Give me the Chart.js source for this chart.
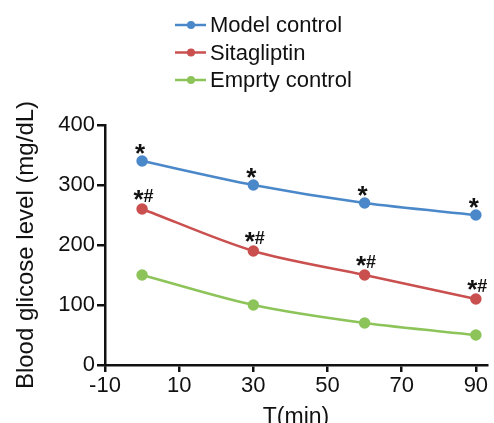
<!DOCTYPE html>
<html><head><meta charset="utf-8">
<script src="https://cdn.jsdelivr.net/npm/chart.js@4/dist/chart.umd.min.js"></script>
<style>html,body{margin:0;padding:0;background:#fff}#wrap{width:494px;height:423px}</style>
</head><body><div id="wrap"><canvas id="c" width="494" height="423"></canvas></div>
<script>
const times = [0, 30, 60, 90];
const modelControl = [340, 300, 270, 250];
const sitagliptin = [260, 190, 150, 110];
const emptyControl = [150, 100, 70, 50];
const modelMarks = ['*', '*', '*', '*'];
const sitaMarks = ['*#', '*#', '*#', '*#'];
const emptyMarks = ['', '', '', ''];
const xTicks = [-10, 10, 30, 50, 70, 90];
const seriesNames = ['Model control', 'Sitagliptin', 'Emprty control'];
const colors = ['#4a88c9', '#c9504f', '#8dc45a'];
const FONT = 'Liberation Sans, Arial, sans-serif';

function ds(label, vals, color, marks) {
  return {
    label, marks,
    data: times.map((t, i) => ({x: t, y: vals[i]})),
    borderColor: color, backgroundColor: color,
    pointBackgroundColor: color, pointBorderColor: color,
    borderWidth: 2.5, pointRadius: 4.5, pointHoverRadius: 4.5,
    tension: 0.3
  };
}

const legendPlugin = {
  id: 'vlegend',
  afterDraw(chart) {
    const ctx = chart.ctx;
    ctx.save();
    chart.data.datasets.forEach((d, i) => {
      const y = 25 + i * 27.5;
      ctx.strokeStyle = d.borderColor; ctx.lineWidth = 2.5;
      ctx.beginPath(); ctx.moveTo(175, y); ctx.lineTo(206, y); ctx.stroke();
      ctx.fillStyle = d.borderColor;
      ctx.beginPath(); ctx.arc(191, y, 4, 0, Math.PI * 2); ctx.fill();
      ctx.fillStyle = '#111'; ctx.font = '22px ' + FONT;
      ctx.textBaseline = 'middle'; ctx.textAlign = 'left';
      ctx.fillText(d.label, 210, y + 1);
    });
    ctx.restore();
  }
};

const marksPlugin = {
  id: 'marks',
  afterDatasetsDraw(chart) {
    const ctx = chart.ctx;
    ctx.save();
    ctx.fillStyle = '#111';
    ctx.textAlign = 'left'; ctx.textBaseline = 'alphabetic';
    chart.data.datasets.forEach((d, i) => {
      const meta = chart.getDatasetMeta(i);
      (d.marks || []).forEach((m, j) => {
        if (!m) return;
        const p = meta.data[j];
        const cy = p.y - (m === '*' ? 12 : 14);
        ctx.font = 'bold 26px ' + FONT;
        const ma = ctx.measureText('*');
        const aW = ma.actualBoundingBoxRight + ma.actualBoundingBoxLeft;
        const aBase = cy + (ma.actualBoundingBoxAscent - ma.actualBoundingBoxDescent) / 2;
        if (m === '*') {
          ctx.fillText('*', p.x - 1.5 - aW / 2 + ma.actualBoundingBoxLeft, aBase);
        } else {
          ctx.fillText('*', p.x - 3 - aW / 2 + ma.actualBoundingBoxLeft, aBase);
          ctx.font = 'bold 18px ' + FONT;
          const mh = ctx.measureText('#');
          const hBase = cy + (mh.actualBoundingBoxAscent - mh.actualBoundingBoxDescent) / 2;
          const hW = mh.actualBoundingBoxRight + mh.actualBoundingBoxLeft;
          ctx.fillText('#', p.x + 6.5 - hW / 2 + mh.actualBoundingBoxLeft, hBase);
        }
      });
    });
    ctx.restore();
  }
};

new Chart(document.getElementById('c'), {
  type: 'line',
  data: {
    datasets: [
      ds(seriesNames[0], modelControl, colors[0], modelMarks),
      ds(seriesNames[1], sitagliptin, colors[1], sitaMarks),
      ds(seriesNames[2], emptyControl, colors[2], emptyMarks)
    ]
  },
  options: {
    responsive: false, animation: false,
    layout: {padding: {top: 125, right: 3, left: 0, bottom: 0}},
    plugins: {legend: {display: false}, tooltip: {enabled: false}},
    scales: {
      x: {
        type: 'linear', min: -10, max: 93,
        afterBuildTicks: s => { s.ticks = xTicks.map(v => ({value: v})); },
        afterFit: s => { s.height = 58; },
        grid: {display: true, drawOnChartArea: false, drawTicks: true, tickLength: 7, color: '#111', lineWidth: 2.5},
        border: {display: true, color: '#111', width: 2.5},
        ticks: {color: '#111', font: {family: FONT, size: 22}, padding: 1, maxRotation: 0, autoSkip: false},
        title: {display: true, text: 'T(min)', color: '#111', font: {family: FONT, size: 23, lineHeight: 1}, padding: {top: 0, bottom: -6.5}}
      },
      y: {
        min: 0, max: 400,
        ticks: {stepSize: 100, color: '#111', font: {family: FONT, size: 22}, padding: 2},
        afterFit: s => { s.width = 105; },
        grid: {display: true, drawOnChartArea: false, drawTicks: true, tickLength: 8, color: '#111', lineWidth: 2.5},
        border: {display: true, color: '#111', width: 2.5},
        title: {display: true, text: 'Blood glicose level (mg/dL)', color: '#111', font: {family: FONT, size: 24, lineHeight: 1}, padding: {top: 14, bottom: 0}}
      }
    }
  },
  plugins: [legendPlugin, marksPlugin]
});
</script></body></html>
